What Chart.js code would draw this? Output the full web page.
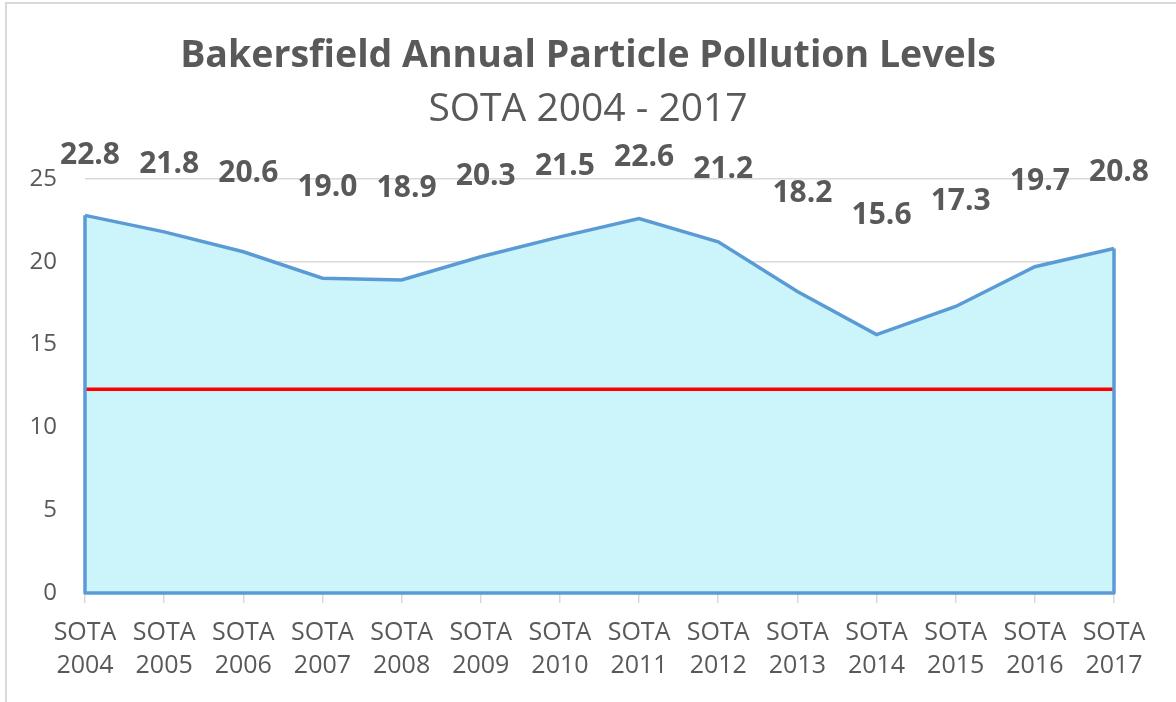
<!DOCTYPE html>
<html>
<head>
<meta charset="utf-8">
<script src="https://cdn.jsdelivr.net/npm/chart.js@4/dist/chart.umd.min.js"></script>
<style>
  html, body { margin: 0; padding: 0; background: #ffffff; overflow: hidden; }
  #wrap { position: absolute; left: 0; top: 0; width: 1176px; height: 702px; }
  #frame { position: absolute; left: 5px; top: 2px; width: 1200px; height: 720px; border-left: 2px solid #d9d9d9; border-top: 2px solid #d9d9d9; box-sizing: border-box; }
  canvas { position: absolute; left: 0; top: 0; }
</style>
</head>
<body>
<div id="wrap">
  <div id="frame"></div>
  <canvas id="c" width="1176" height="702"></canvas>
</div>
<script>
const titleText = 'Bakersfield Annual Particle Pollution Levels';
const subtitleText = 'SOTA 2004 - 2017';
const years = ['2004','2005','2006','2007','2008','2009','2010','2011','2012','2013','2014','2015','2016','2017'];
const categories = years.map(y => ['SOTA', y]);
const pm25 = [22.8, 21.8, 20.6, 19.0, 18.9, 20.3, 21.5, 22.6, 21.2, 18.2, 15.6, 17.3, 19.7, 20.8];
const standardLevel = 12.3;
const standard = categories.map(() => standardLevel);
const yTicks = [0, 5, 10, 15, 20, 25];

const FONT = "'Open Sans', 'Segoe UI', sans-serif";
const GREY = '#595959';

const outlinePlugin = {
  id: 'areaOutline',
  afterDatasetsDraw(chart) {
    const meta = chart.getDatasetMeta(0);
    const pts = meta.data;
    const y0 = chart.scales.y.getPixelForValue(0);
    const ctx = chart.ctx;
    ctx.save();
    ctx.strokeStyle = '#5b9bd5';
    ctx.lineWidth = 3.5;
    ctx.lineJoin = 'round';
    ctx.beginPath();
    ctx.moveTo(pts[0].x, pts[0].y);
    ctx.lineTo(pts[0].x, y0);
    ctx.lineTo(pts[pts.length - 1].x, y0);
    ctx.lineTo(pts[pts.length - 1].x, pts[pts.length - 1].y);
    ctx.stroke();
    ctx.restore();
  }
};

const labelPlugin = {
  id: 'valueLabels',
  afterDraw(chart) {
    const meta = chart.getDatasetMeta(0);
    const ys = chart.scales.y;
    const ctx = chart.ctx;
    ctx.save();
    ctx.font = "bold 30px " + FONT;
    ctx.fillStyle = GREY;
    ctx.textAlign = 'center';
    ctx.textBaseline = 'middle';
    meta.data.forEach((pt, i) => {
      const v = pm25[i];
      const y = ys.getPixelForValue(v / 2 + 15);
      ctx.fillText(v.toFixed(1), pt.x + 5, y);
    });
    ctx.restore();
  }
};

new Chart(document.getElementById('c'), {
  type: 'line',
  data: {
    labels: categories,
    datasets: [
      {
        data: pm25,
        borderColor: '#5b9bd5',
        borderWidth: 3.5,
        backgroundColor: '#ccf5fb',
        fill: 'origin',
        pointRadius: 0,
        tension: 0,
        order: 2
      },
      {
        data: standard,
        borderColor: '#ff0000',
        borderWidth: 3.5,
        pointRadius: 0,
        fill: false,
        order: 1
      }
    ]
  },
  options: {
    responsive: false,
    animation: false,
    devicePixelRatio: 1,
    layout: { padding: { left: 0, right: 0, top: 0, bottom: 7 } },
    plugins: {
      legend: { display: false },
      tooltip: { enabled: false },
      title: {
        display: true,
        text: titleText,
        color: GREY,
        font: { family: FONT, size: 37.5, weight: 'bold', lineHeight: 1.2 },
        padding: { top: 33.5, bottom: 0 }
      },
      subtitle: {
        display: true,
        text: subtitleText,
        color: GREY,
        font: { family: FONT, size: 39, weight: 'normal', lineHeight: 1.2 },
        padding: { top: 8, bottom: 45.6 }
      }
    },
    scales: {
      x: {
        type: 'category',
        offset: false,
        grid: { display: true, drawOnChartArea: false, drawTicks: true, tickLength: 10, color: '#d9d9d9', lineWidth: 1.5 },
        border: { display: true, color: '#d9d9d9', width: 2 },
        ticks: { color: GREY, font: { family: FONT, size: 25, lineHeight: 1.32 }, padding: 13, maxRotation: 0, autoSkip: false }
      },
      y: {
        min: 0,
        max: 25,
        afterBuildTicks(axis) { axis.ticks = yTicks.map(v => ({ value: v })); },
        afterFit(axis) { axis.width = 85; },
        grid: { color: '#d9d9d9', lineWidth: 1.5, drawTicks: false },
        border: { display: false },
        ticks: { color: GREY, font: { family: FONT, size: 24 }, padding: 28 }
      },
      yR: {
        position: 'right',
        min: 0,
        max: 25,
        afterFit(axis) { axis.width = 62; },
        grid: { display: false, drawTicks: false },
        border: { display: false },
        ticks: { display: false }
      }
    }
  },
  plugins: [outlinePlugin, labelPlugin]
});
</script>
</body>
</html>
